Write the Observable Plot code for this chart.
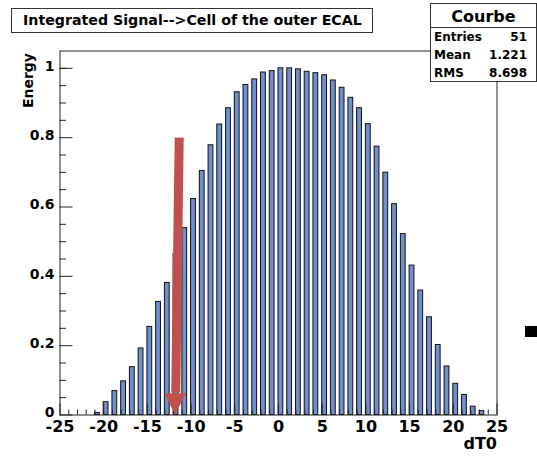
<!DOCTYPE html>
<html>
<head>
<meta charset="utf-8">
<script src="https://cdn.jsdelivr.net/npm/d3@7"></script>
<script src="https://cdn.jsdelivr.net/npm/@observablehq/plot@0.6"></script>
<style>
  body { margin: 0; background: #fff; }
  #wrap { position: relative; width: 537px; height: 457px; overflow: hidden;
          font-family: "DejaVu Sans", sans-serif; font-weight: bold; color: #000; }
  #wrap svg { position: absolute; left: 0; top: 0; }
  .box { position: absolute; background: #fff; border: 1px solid #333; box-sizing: border-box; }
  #title { left: 11px; top: 8px; width: 362px; height: 25px; font-size: 14.2px;
           line-height: 23px; padding-left: 11px; white-space: nowrap; }
  #stats { left: 430px; top: 3px; width: 107px; height: 79px; font-size: 12px; }
  #stats .head { height: 23px; line-height: 25px; text-align: center; font-size: 16px;
                 border-bottom: 1px solid #333; }
  #stats .row { display: flex; justify-content: space-between; padding: 0 9px 0 3px;
                height: 18px; line-height: 18px; }
  #marker { position: absolute; left: 525px; top: 326px; width: 12px; height: 11px; background: #000; }
</style>
</head>
<body>
<div id="wrap"></div>
<script>
// Histogram "Courbe": integrated signal per dT0 bin (bins centred on integers)
const dT0 = [-25, -24, -23, -22, -21, -20, -19, -18, -17, -16, -15, -14, -13, -12, -11, -10,
             -9, -8, -7, -6, -5, -4, -3, -2, -1, 0, 1, 2, 3, 4, 5, 6, 7, 8, 9, 10,
             11, 12, 13, 14, 15, 16, 17, 18, 19, 20, 21, 22, 23, 24, 25];
const energy = [0, 0, 0, 0, 0.006, 0.037, 0.069, 0.097, 0.138, 0.192, 0.254, 0.326, 0.381, 0.464, 0.539, 0.623,
                0.704, 0.778, 0.838, 0.885, 0.931, 0.952, 0.968, 0.988, 0.992, 1.0, 1.0, 0.997, 0.990, 0.986, 0.980, 0.965, 0.944, 0.915, 0.885, 0.839,
                0.774, 0.699, 0.608, 0.522, 0.431, 0.359, 0.282, 0.202, 0.140, 0.090, 0.058, 0.024, 0.011, 0, 0];

// Axis ticks
const xMajorTicks = [-25, -20, -15, -10, -5, 0, 5, 10, 15, 20, 25];
const xMinorTicks = [-24, -23, -22, -21, -19, -18, -17, -16, -14, -13, -12, -11, -9, -8, -7, -6,
                     -4, -3, -2, -1, 1, 2, 3, 4, 6, 7, 8, 9, 11, 12, 13, 14, 16, 17, 18, 19, 21, 22, 23, 24];
const yMajorTicks = [0, 0.2, 0.4, 0.6, 0.8, 1];
const yMinorTicks = [0.05, 0.1, 0.15, 0.25, 0.3, 0.35, 0.45, 0.5, 0.55, 0.65, 0.7, 0.75, 0.85, 0.9, 0.95, 1.0];

// Red arrow pointing at the selected time bin
const arrowTail = {x: -11.36, y: 0.8};
const arrowTip = {x: -11.79, y: 0};
const arrowHeadBase = 0.061;     // energy where the head starts
const arrowHeadHalfWidth = 1.26; // in dT0 units

// Statistics box
const statsTitle = "Courbe";
const statsRows = [["Entries", "51"], ["Mean", "1.221"], ["RMS", "8.698"]];
const titleText = "Integrated Signal-->Cell of the outer ECAL";

const BAR_WIDTH = 0.55;
const barFill = "#6f8fcf";
const arrowColor = "#c0504d";

const bins = dT0.map((x, i) => ({x, v: energy[i]})).filter(d => d.v > 0);

const headX = arrowTip.x + (arrowTail.x - arrowTip.x) * arrowHeadBase / arrowTail.y;
const shaft = [{x1: arrowTail.x, y1: arrowTail.y, x2: headX, y2: arrowHeadBase + 0.004}];
const head = [
  {y: arrowHeadBase, x1: headX - arrowHeadHalfWidth, x2: headX + arrowHeadHalfWidth},
  {y: arrowTip.y, x1: arrowTip.x, x2: arrowTip.x}
];

const blank = () => "";

const chart = Plot.plot({
  width: 537,
  height: 457,
  marginLeft: 59.5,
  marginRight: 40.5,
  marginTop: 50.5,
  marginBottom: 42.5,
  x: {domain: [-25, 25]},
  y: {domain: [0, 1.05]},
  style: {fontFamily: "DejaVu Sans, sans-serif", fontWeight: "bold", color: "#000", background: "#fff"},
  marks: [
    Plot.rectY(bins, {x1: "x", x2: d => d.x + BAR_WIDTH, y: "v", fill: barFill, stroke: "#111", strokeWidth: 1}),
    Plot.frame({stroke: "#222"}),
    // ticks point into the frame
    Plot.axisY({ticks: yMajorTicks, tickSize: -13, tickFormat: blank, label: null, stroke: "#222"}),
    Plot.axisY({ticks: yMinorTicks, tickSize: -6.5, tickFormat: blank, label: null, stroke: "#222"}),
    Plot.axisY({ticks: yMajorTicks, tickSize: 0, tickPadding: 5.5, tickFormat: d => String(d),
                fontSize: 14, dy: -2, label: null}),
    Plot.axisX({ticks: xMajorTicks, tickSize: -11, tickFormat: blank, label: null, stroke: "#222"}),
    Plot.axisX({ticks: xMinorTicks, tickSize: -5, tickFormat: blank, label: null, stroke: "#222"}),
    Plot.axisX({ticks: xMajorTicks, tickSize: 0, tickPadding: 6, tickFormat: d => String(d),
                fontSize: 16, label: null}),
    Plot.link(shaft, {x1: "x1", y1: "y1", x2: "x2", y2: "y2", stroke: arrowColor, strokeWidth: 9}),
    Plot.areaX(head, {x1: "x1", x2: "x2", y: "y", fill: arrowColor}),
    Plot.text(["Energy"], {frameAnchor: "top-left", text: d => d, rotate: -90, textAnchor: "end",
                           dx: -37, dy: 2, fontSize: 14}),
    Plot.text(["dT0"], {frameAnchor: "bottom-right", text: d => d, textAnchor: "end",
                        dy: 33.5, fontSize: 16})
  ]
});

const wrap = document.getElementById("wrap");
wrap.appendChild(chart);

const title = document.createElement("div");
title.className = "box";
title.id = "title";
title.textContent = titleText;
wrap.appendChild(title);

const stats = document.createElement("div");
stats.className = "box";
stats.id = "stats";
const head1 = document.createElement("div");
head1.className = "head";
head1.textContent = statsTitle;
stats.appendChild(head1);
for (const [k, v] of statsRows) {
  const row = document.createElement("div");
  row.className = "row";
  row.innerHTML = `<span>${k}</span><span>${v}</span>`;
  stats.appendChild(row);
}
wrap.appendChild(stats);

const marker = document.createElement("div");
marker.id = "marker";
wrap.appendChild(marker);
</script>
</body>
</html>
